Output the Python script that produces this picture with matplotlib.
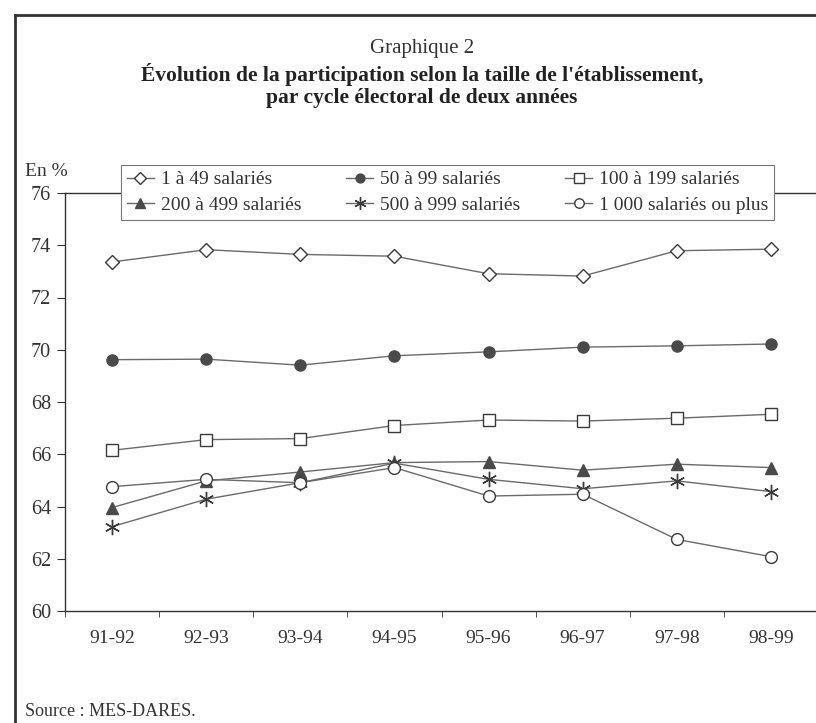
import matplotlib
matplotlib.use("Agg")
import matplotlib.pyplot as plt
from matplotlib.lines import Line2D

plt.rcParams['font.family'] = ['Liberation Serif', 'DejaVu Serif']

cycles = ["91-92", "92-93", "93-94", "94-95", "95-96", "96-97", "97-98", "98-99"]

s_1_49 = [73.36, 73.83, 73.65, 73.58, 72.91, 72.82, 73.79, 73.85]
s_50_99 = [69.62, 69.64, 69.41, 69.77, 69.92, 70.10, 70.15, 70.22]
s_100_199 = [66.15, 66.56, 66.60, 67.10, 67.31, 67.27, 67.38, 67.53]
s_200_499 = [63.96, 64.98, 65.32, 65.68, 65.72, 65.39, 65.62, 65.49]
s_500_999 = [63.23, 64.28, 64.91, 65.66, 65.04, 64.68, 64.98, 64.57]
s_1000 = [64.76, 65.04, 64.91, 65.49, 64.40, 64.47, 62.74, 62.08]

labels = ["1 à 49 salariés", "50 à 99 salariés", "100 à 199 salariés",
          "200 à 499 salariés", "500 à 999 salariés", "1 000 salariés ou plus"]

W, H = 816, 723
fig = plt.figure(figsize=(W / 100, H / 100), dpi=100)
ax = fig.add_axes([65 / W, 1 - 611 / H, 753 / W, 418 / H])

line_c = "#6a6a6a"
dark = "#3a3a3a"
x = list(range(len(cycles)))

h = []
h += ax.plot(x, s_1_49, color=line_c, lw=1, marker="D", ms=7.5, mfc="white", mec=dark, mew=1, label=labels[0])
h += ax.plot(x, s_50_99, color=line_c, lw=1, marker="o", ms=8, mfc="#4a4a4a", mec="#4a4a4a", label=labels[1])
h += ax.plot(x, s_100_199, color=line_c, lw=1, marker="s", ms=9, mfc="white", mec=dark, mew=1, label=labels[2])
h += ax.plot(x, s_200_499, color=line_c, lw=1, marker="^", ms=9, mfc="#4a4a4a", mec="#4a4a4a", label=labels[3])
h += ax.plot(x, s_500_999, color=line_c, lw=1, marker=(6, 2, 0), ms=11, mfc="none", mec=dark, mew=1, label=labels[4])
h += ax.plot(x, s_1000, color=line_c, lw=1, marker="o", ms=8.5, mfc="white", mec=dark, mew=1, label=labels[5])

ax.set_xlim(-0.5, len(cycles) - 0.5)
ax.set_ylim(60, 76)
ax.set_yticks(range(60, 77, 2))
ax.set_xticks(x)
ax.set_xticklabels(cycles)
ax.set_xticks([i + 0.5 for i in range(-1, len(cycles))], minor=True)
ax.tick_params(axis="x", which="major", length=0, pad=14, labelsize=14)
ax.tick_params(axis="x", which="minor", length=4, direction="out", color="#333333")
ax.tick_params(axis="y", length=6, direction="out", labelsize=14.5, pad=4, color="#333333")
for lab in ax.get_xticklabels() + ax.get_yticklabels():
    lab.set_color("#333333")

ax.spines["right"].set_visible(False)
for sp in ["left", "bottom", "top"]:
    ax.spines[sp].set_color("#333333")
    ax.spines[sp].set_linewidth(1)

# ordre ligne par ligne dans la légende
order = [0, 3, 1, 4, 2, 5]
leg = ax.legend([h[i] for i in order], [labels[i] for i in order],
                ncol=3, loc="upper left",
                bbox_to_anchor=(121 / W, 1 - 165 / H),
                bbox_transform=fig.transFigure, fontsize=14, frameon=True,
                fancybox=False, framealpha=1, edgecolor="#777777",
                handlelength=1.4, handletextpad=0.35, borderpad=0.3,
                labelspacing=0.4, borderaxespad=0, columnspacing=2.3,
                markerscale=0.8)
leg.get_frame().set_linewidth(0.8)
for t in leg.get_texts():
    t.set_color("#333333")

fig.text(25 / W, 1 - 172 / H, "En %", fontsize=14, color="#333333", va="center", ha="left")
fig.text(422 / W, 1 - 48 / H, "Graphique 2", fontsize=15, color="#333333", ha="center", va="center")
fig.text(422 / W, 1 - 75 / H, "Évolution de la participation selon la taille de l'établissement,",
         fontsize=15.5, fontweight="bold", color="#222222", ha="center", va="center")
fig.text(422 / W, 1 - 98 / H, "par cycle électoral de deux années",
         fontsize=15.5, fontweight="bold", color="#222222", ha="center", va="center")
fig.text(25 / W, 1 - 712 / H, "Source : MES-DARES.", fontsize=13, color="#333333", va="center", ha="left")

# cadre extérieur
fig.add_artist(Line2D([15 / W, 15 / W], [0, 1 - 15 / H], transform=fig.transFigure, color="#333333", lw=2))
fig.add_artist(Line2D([15 / W, 1], [1 - 15 / H, 1 - 15 / H], transform=fig.transFigure, color="#333333", lw=2))

fig.savefig("out.png", dpi=100)
